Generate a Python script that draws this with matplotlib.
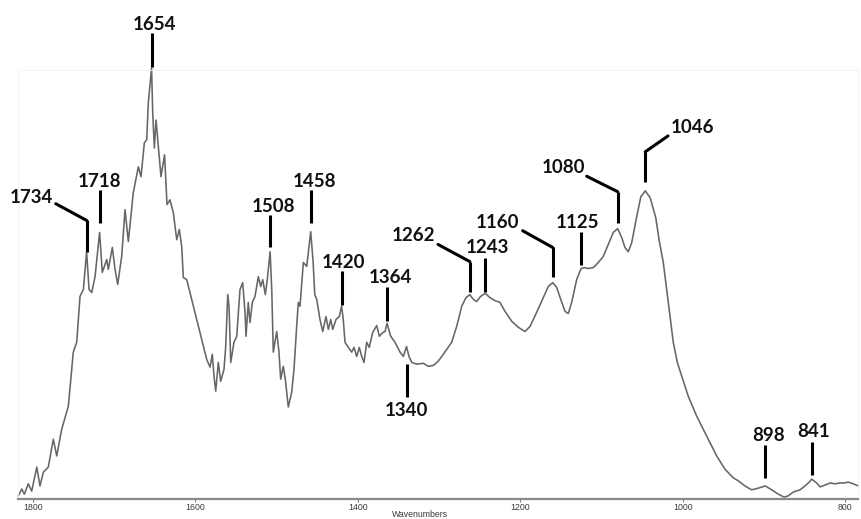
import numpy as np
import matplotlib
matplotlib.use("Agg")
import matplotlib.pyplot as plt

# spectrum trace (wavenumber in cm-1, absorbance in arbitrary units)
wavenumber = [
    1818.1, 1813.9, 1810.7, 1805.8, 1801.6, 1795.4, 1791.4, 1787.3, 1781.2, 1775.0,
    1770.8, 1764.7, 1756.5, 1750.4, 1746.2, 1742.1, 1738.0, 1734.0, 1731.0, 1727.7,
    1723.6, 1718.0, 1714.7, 1709.2, 1707.3, 1702.3, 1699.0, 1695.7, 1690.8, 1686.7,
    1682.6, 1676.5, 1670.3, 1667.0, 1662.9, 1660.0, 1658.0, 1654.0, 1652.6, 1650.6,
    1648.5, 1642.4, 1638.0, 1635.0, 1631.3, 1627.2, 1623.0, 1619.8, 1616.9, 1614.9,
    1610.7, 1604.6, 1598.4, 1592.3, 1586.1, 1582.0, 1579.2, 1577.1, 1575.0, 1571.8,
    1568.9, 1564.8, 1562.7, 1560.2, 1558.6, 1556.5, 1552.5, 1549.1, 1545.1, 1541.8,
    1538.9, 1537.7, 1534.9, 1532.8, 1529.9, 1526.6, 1522.5, 1519.6, 1517.1, 1513.9,
    1511.5, 1508.0, 1506.0, 1504.1, 1499.9, 1497.1, 1495.0, 1491.8, 1489.3, 1485.6,
    1481.4, 1478.6, 1475.3, 1473.3, 1471.2, 1467.1, 1462.9, 1458.0, 1455.0, 1453.0,
    1450.6, 1446.6, 1443.2, 1439.2, 1436.3, 1433.4, 1430.9, 1426.9, 1422.8, 1420.0,
    1417.9, 1415.8, 1411.7, 1407.5, 1404.7, 1401.4, 1398.2, 1395.2, 1392.4, 1389.0,
    1385.9, 1381.7, 1376.7, 1373.5, 1369.3, 1366.5, 1364.0, 1359.5, 1354.2, 1348.0,
    1344.0, 1340.0, 1337.0, 1333.6, 1327.5, 1319.4, 1313.2, 1307.0, 1300.9, 1294.7,
    1284.4, 1278.2, 1272.0, 1266.8, 1262.0, 1257.8, 1253.6, 1248.7, 1243.0, 1237.2,
    1231.0, 1224.9, 1218.7, 1210.5, 1202.4, 1194.1, 1187.9, 1179.7, 1171.6, 1165.4,
    1160.0, 1155.1, 1150.1, 1144.8, 1140.8, 1136.6, 1130.5, 1125.0, 1121.0, 1116.2,
    1110.0, 1103.8, 1097.7, 1091.5, 1085.4, 1080.0, 1075.0, 1071.0, 1066.9, 1062.7,
    1056.5, 1051.5, 1046.0, 1040.0, 1033.0, 1029.0, 1023.8, 1019.6, 1015.5, 1011.5,
    1006.5, 1001.1, 993.0, 982.7, 970.3, 958.0, 947.8, 937.6, 931.4, 923.2,
    914.9, 906.8, 898.0, 890.3, 882.2, 875.1, 869.9, 863.7, 855.4, 849.3,
    844.0, 841.0, 834.9, 830.8, 824.7, 818.5, 812.3, 806.2, 801.3, 796.0,
    789.8, 783.6,
]
absorbance = [
    0.005, 0.021, 0.009, 0.033, 0.016, 0.072, 0.028, 0.060, 0.072, 0.137,
    0.098, 0.160, 0.214, 0.340, 0.363, 0.470, 0.486, 0.574, 0.486, 0.479,
    0.516, 0.619, 0.526, 0.556, 0.533, 0.584, 0.533, 0.498, 0.563, 0.672,
    0.598, 0.712, 0.772, 0.749, 0.828, 0.835, 0.921, 1.003, 0.898, 0.816,
    0.881, 0.749, 0.800, 0.684, 0.695, 0.665, 0.602, 0.626, 0.586, 0.514,
    0.509, 0.463, 0.416, 0.370, 0.323, 0.305, 0.335, 0.284, 0.249, 0.316,
    0.272, 0.300, 0.353, 0.474, 0.447, 0.316, 0.363, 0.377, 0.486, 0.502,
    0.433, 0.377, 0.456, 0.409, 0.456, 0.470, 0.516, 0.493, 0.509, 0.474,
    0.509, 0.574, 0.486, 0.340, 0.388, 0.340, 0.277, 0.307, 0.277, 0.212,
    0.247, 0.300, 0.400, 0.456, 0.447, 0.549, 0.540, 0.621, 0.549, 0.474,
    0.463, 0.416, 0.388, 0.423, 0.393, 0.416, 0.393, 0.416, 0.423, 0.447,
    0.416, 0.363, 0.351, 0.340, 0.351, 0.330, 0.351, 0.330, 0.316, 0.363,
    0.351, 0.386, 0.402, 0.377, 0.386, 0.388, 0.407, 0.377, 0.363, 0.340,
    0.330, 0.353, 0.330, 0.316, 0.312, 0.314, 0.307, 0.309, 0.319, 0.335,
    0.363, 0.400, 0.447, 0.467, 0.474, 0.463, 0.458, 0.470, 0.477, 0.467,
    0.460, 0.456, 0.435, 0.412, 0.398, 0.388, 0.400, 0.433, 0.467, 0.493,
    0.502, 0.491, 0.463, 0.435, 0.430, 0.456, 0.509, 0.535, 0.537, 0.535,
    0.537, 0.549, 0.563, 0.591, 0.619, 0.628, 0.607, 0.584, 0.574, 0.595,
    0.656, 0.702, 0.716, 0.700, 0.653, 0.602, 0.549, 0.486, 0.423, 0.363,
    0.316, 0.284, 0.237, 0.191, 0.144, 0.098, 0.067, 0.047, 0.040, 0.028,
    0.019, 0.023, 0.028, 0.019, 0.009, 0.002, 0.005, 0.014, 0.019, 0.028,
    0.037, 0.044, 0.035, 0.026, 0.030, 0.035, 0.033, 0.035, 0.035, 0.037,
    0.033, 0.028,
]

peak_labels = [1734, 1718, 1654, 1508, 1458, 1420, 1364, 1340,
               1262, 1243, 1160, 1125, 1080, 1046, 898, 841]

# where each label sits: text (x, baseline y, ha), stem (y from, y to),
# optional elbow point the stem bends towards
label_layout = {
    1734: dict(text=(1775.4, 0.688, 'right'), stem=(0.574, 0.647), elbow=(1772.0, 0.686)),
    1718: dict(text=(1718.0, 0.726, 'center'), stem=(0.640, 0.717)),
    1654: dict(text=(1650.0, 1.091, 'center'), stem=(1.005, 1.084)),
    1508: dict(text=(1504.3, 0.667, 'center'), stem=(0.584, 0.660)),
    1458: dict(text=(1453.0, 0.726, 'center'), stem=(0.640, 0.719)),
    1420: dict(text=(1417.2, 0.537, 'center'), stem=(0.451, 0.528)),
    1364: dict(text=(1360.0, 0.502, 'center'), stem=(0.412, 0.493)),
    1340: dict(text=(1340.6, 0.191, 'center'), stem=(0.235, 0.312)),
    1262: dict(text=(1332.0, 0.598, 'center'), stem=(0.481, 0.551), elbow=(1301.2, 0.591)),
    1243: dict(text=(1240.0, 0.572, 'center'), stem=(0.481, 0.560)),
    1160: dict(text=(1227.4, 0.630, 'center'), stem=(0.516, 0.584), elbow=(1197.0, 0.623)),
    1125: dict(text=(1129.0, 0.630, 'center'), stem=(0.544, 0.621)),
    1080: dict(text=(1147.3, 0.758, 'center'), stem=(0.642, 0.714), elbow=(1118.1, 0.750)),
    1046: dict(text=(1014.7, 0.851, 'left'), stem=(0.737, 0.807), elbow=(1018.0, 0.844)),
    898: dict(text=(894.6, 0.133, 'center'), stem=(0.047, 0.123)),
    841: dict(text=(839.0, 0.142, 'center'), stem=(0.053, 0.130)),
}

fig = plt.figure(figsize=(8.61, 5.19), dpi=100)
ax = fig.add_axes([18/861, 20.5/519, 840/861, 428.5/519])

ax.plot(wavenumber, absorbance, color='#666666', lw=1.15, clip_on=False)

for p in peak_labels:
    lay = label_layout[p]
    y0, y1 = lay['stem']
    ax.plot([p, p], [y0, y1], color='black', lw=2.2, solid_capstyle='butt', clip_on=False)
    if 'elbow' in lay:
        ex, ey = lay['elbow']
        ax.plot([p, ex], [y1, ey], color='black', lw=2.2, solid_capstyle='round', clip_on=False)
    tx, ty, ha = lay['text']
    ax.text(tx, ty, str(p), ha=ha, va='baseline', fontsize=13.5,
            fontweight='bold', family='Lato', color='#111111')

ax.set_xlim(1818.5, 784)
ax.set_ylim(-0.0012, 0.9977)
ax.set_yticks([])
ax.set_xticks([1800, 1600, 1400, 1200, 1000, 800])
ax.tick_params(axis='x', length=2.5, width=0.8, color='#808080', pad=1.0,
               labelsize=6.3, labelcolor='#3a3a3a')
for lbl in ax.get_xticklabels():
    lbl.set_family('Liberation Sans')

ax.set_xlabel('Wavenumbers', fontsize=6.3, color='#3a3a3a', family='Liberation Sans')
ax.xaxis.set_label_coords((420 - 18) / 840, -0.026)

for side in ['left', 'top', 'right']:
    ax.spines[side].set_color('#f1f1f1')
    ax.spines[side].set_linewidth(0.6)
ax.spines['bottom'].set_color('#8a8a8a')
ax.spines['bottom'].set_linewidth(1.6)

plt.savefig('out.png', dpi=100)
